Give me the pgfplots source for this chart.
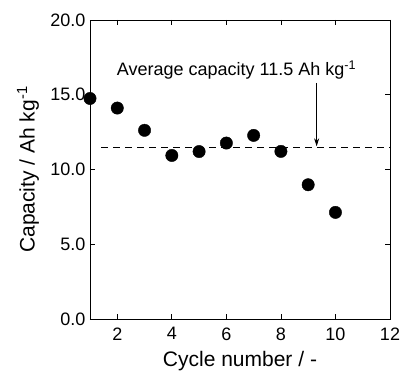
\documentclass[border=0pt]{standalone}
\usepackage{fontspec}
\setmainfont{Liberation Sans}
\usepackage{pgfplots}
\pgfplotsset{compat=1.18}
\usetikzlibrary{arrows.meta}
\begin{document}
\begin{tikzpicture}
\begin{axis}[
  scale only axis, width=300pt, height=299pt,
  xmin=1, xmax=12, ymin=0, ymax=20,
  xtick={2,4,...,12}, ytick={0,5,...,20},
  tick align=inside, major tick length=5pt,
  tick style={black, line width=0.7pt},
  axis line style={line width=0.9pt},
  ticklabel style={font=\fontsize{18}{18}\selectfont},
  xticklabel style={yshift=-5pt},
  yticklabel style={xshift=-1pt, /pgf/number format/.cd, fixed, fixed zerofill, precision=1},
  /pgf/number format/assume math mode=true,
  xlabel={Cycle number / -},
  ylabel={Capacity / Ah kg\textsuperscript{-1}},
  every axis x label/.style={at={(rel axis cs:0.5,0)}, anchor=base, yshift=-47pt, font=\fontsize{21}{21}\selectfont},
  every axis y label/.style={at={(rel axis cs:0,0.5)}, xshift=-62pt, rotate=90, anchor=center, font=\fontsize{21}{21}\selectfont},
  clip=false,
]
\addplot[only marks, mark=*, mark size=6.2pt, black] coordinates {
  (1,14.75) (2,14.11) (3,12.62) (4,10.94) (5,11.2)
  (6,11.77) (7,12.28) (8,11.21) (9,8.98) (10,7.13)
};
\addplot[black, line width=0.8pt, dash pattern=on 7pt off 5pt] coordinates {(1.42,11.5) (12,11.5)};
\draw[black, line width=0.8pt, -{Stealth[length=8pt,width=5pt]}] (axis cs:9.31,15.8) -- (axis cs:9.31,11.55);
\node[anchor=base west, inner sep=0pt, font=\fontsize{18}{18}\selectfont] at (axis cs:1.98,16.3) {Average capacity 11.5 Ah kg\textsuperscript{-1}};
\coordinate (SW) at (rel axis cs:0,0);
\coordinate (NE) at (rel axis cs:1,1);
\end{axis}
\pgfresetboundingbox
\path[use as bounding box] ([shift={(-90pt,-52pt)}]SW) rectangle ([shift={(10pt,20pt)}]NE);
\end{tikzpicture}
\end{document}
